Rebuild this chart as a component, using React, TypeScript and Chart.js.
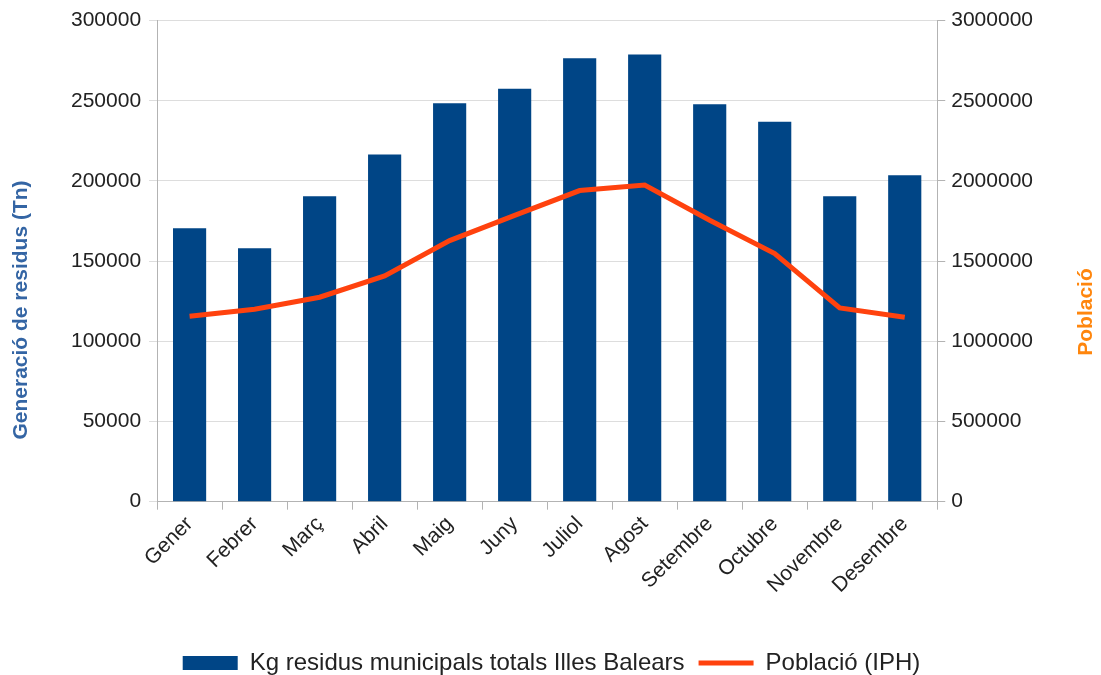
import React, { useEffect, useRef } from "react";
import { Chart, registerables } from "chart.js";

Chart.register(...registerables);

const months = ["Gener", "Febrer", "Març", "Abril", "Maig", "Juny", "Juliol", "Agost", "Setembre", "Octubre", "Novembre", "Desembre"];
const residus = [170500, 158000, 190500, 216500, 248500, 257500, 276500, 278800, 247800, 237000, 190500, 203500];
const poblacio = [1157000, 1200000, 1275000, 1408000, 1628000, 1785000, 1940000, 1975000, 1755000, 1547000, 1208000, 1150000];
const leftTicksMax = 300000;
const rightTicksMax = 3000000;
const leftTitle = "Generació de residus (Tn)";
const rightTitle = "Població";

const FONT = "'Liberation Sans', Arial, sans-serif";

const axisTitlesPlugin = {
  id: "axisTitles",
  afterDraw(chart: any) {
    const ctx = chart.ctx;
    ctx.save();
    ctx.font = `bold 21px ${FONT}`;
    ctx.textAlign = "center";
    ctx.textBaseline = "middle";
    ctx.fillStyle = "#3465a4";
    ctx.save();
    ctx.translate(21, 310);
    ctx.rotate(-Math.PI / 2);
    ctx.fillText(leftTitle, 0, 0);
    ctx.restore();
    ctx.fillStyle = "#ff860d";
    ctx.translate(1086, 312);
    ctx.rotate(-Math.PI / 2);
    ctx.fillText(rightTitle, 0, 0);
    ctx.restore();
  },
};

export default function App() {
  const ref = useRef<HTMLCanvasElement>(null);
  useEffect(() => {
    const chart = new Chart(ref.current!, {
      type: "bar",
      data: {
        labels: months,
        datasets: [
          {
            type: "bar",
            label: "Kg residus municipals totals Illes Balears",
            data: residus,
            backgroundColor: "#004586",
            borderWidth: 0,
            barPercentage: 0.51,
            categoryPercentage: 1,
            yAxisID: "y",
            order: 1,
          },
          {
            type: "line",
            label: "Població (IPH)",
            data: poblacio,
            borderColor: "#ff420e",
            backgroundColor: "#ff420e",
            borderWidth: 5,
            pointRadius: 0,
            tension: 0,
            yAxisID: "y1",
            order: 0,
          } as any,
        ],
      },
      plugins: [axisTitlesPlugin],
      options: {
        animation: false,
        responsive: true,
        maintainAspectRatio: false,
        layout: { padding: { left: 8, right: 6, top: 18, bottom: -10 } },
        plugins: {
          tooltip: { enabled: false },
          legend: {
            position: "bottom",
            labels: {
              font: { family: FONT, size: 24 },
              color: "#222",
              usePointStyle: true,
              pointStyleWidth: 55,
              boxHeight: 14,
              padding: 14,
              sort: (a: any, b: any) => a.datasetIndex - b.datasetIndex,
              generateLabels: (chart: any) => {
                const items = Chart.defaults.plugins.legend.labels.generateLabels(chart);
                return items.map((it: any) => {
                  if (it.datasetIndex === 1) {
                    return { ...it, pointStyle: "line", lineWidth: 5, strokeStyle: "#ff420e" };
                  }
                  return { ...it, pointStyle: "rect", lineWidth: 0, fillStyle: "#004586" };
                });
              },
            },
          },
        },
        scales: {
          x: {
            offset: true,
            grid: { drawOnChartArea: false, offset: true, tickLength: 8, color: "#b3b3b3" },
            border: { color: "#b3b3b3" },
            afterFit: (s: any) => {
              s.height += 37;
            },
            ticks: {
              font: { family: FONT, size: 21 },
              color: "#222",
              minRotation: 45,
              maxRotation: 45,
              autoSkip: false,
              padding: 2,
            },
          },
          y: {
            position: "left",
            min: 0,
            max: leftTicksMax,
            afterFit: (s: any) => {
              s.width += 55;
            },
            ticks: {
              stepSize: 50000,
              font: { family: FONT, size: 21 },
              color: "#222",
              padding: 8,
              callback: (v: any) => String(v),
            },
            grid: { color: "#dddddd", tickLength: 8 },
            border: { color: "#b3b3b3" },
          },
          y1: {
            position: "right",
            min: 0,
            max: rightTicksMax,
            afterFit: (s: any) => {
              s.width += 56;
            },
            ticks: {
              stepSize: 500000,
              font: { family: FONT, size: 21 },
              color: "#222",
              padding: 6,
              callback: (v: any) => String(v),
            },
            grid: { drawOnChartArea: false, tickLength: 8, color: "#b3b3b3" },
            border: { color: "#b3b3b3" },
          },
        },
      } as any,
    });
    return () => chart.destroy();
  }, []);
  return (
    <div style={{ position: "fixed", left: 0, top: 0, width: 1101, height: 675, background: "#fff" }}>
      <canvas ref={ref} />
    </div>
  );
}
